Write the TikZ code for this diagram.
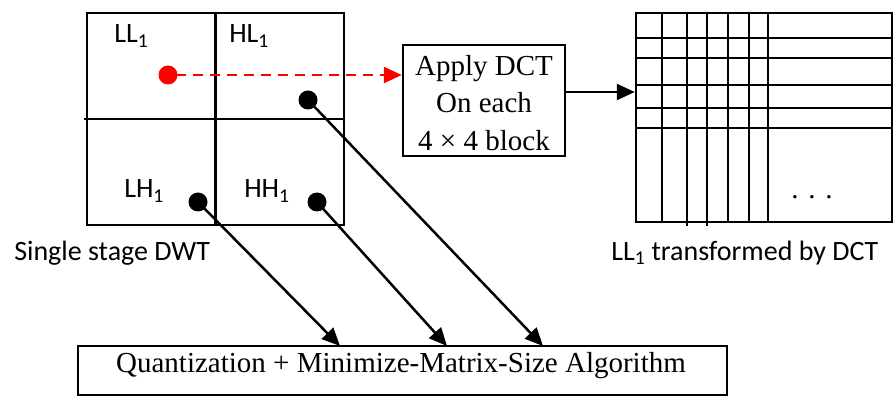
\documentclass[tikz,border=0pt]{standalone}
\usepackage{fontspec}
\setmainfont{Liberation Serif}
\newfontfamily\calib{Carlito}
\usetikzlibrary{arrows.meta}
\begin{document}
\begin{tikzpicture}[x=1pt,y=-1pt,line width=2.5pt,
  tip/.style={-{Triangle[length=18pt,width=16pt]}},
  dotb/.style={circle,fill=black,inner sep=0pt,minimum size=19pt},
  dotr/.style={circle,fill=red,inner sep=0pt,minimum size=19pt},
  lab/.style={font=\calib\fontsize{28}{32}\selectfont,inner sep=0pt},
  serif/.style={font=\fontsize{29}{37.5}\selectfont,inner sep=0pt},
  box/.style={draw,inner sep=0pt}]
\useasboundingbox (0,0) rectangle (894,398);
% left DWT grid
\node[box,minimum width=257pt,minimum height=212pt] (dwt) at (215.5,119) {};
\draw (dwt.north) -- (dwt.south);
\draw ([xshift=-2pt]dwt.west) -- (dwt.east);
\node[lab,anchor=base west] (tll) at (113,43) {LL\textsubscript{1}};
\node[lab,anchor=base west] (thl) at (228,43) {HL\textsubscript{1}};
\node[lab,anchor=base west] (tlh) at (123,198) {LH\textsubscript{1}};
\node[lab,anchor=base west] (thh) at (243,198) {HH\textsubscript{1}};
\node[dotr] (rdot) at (168,75) {};
\node[dotb] (hldot) at (308,100) {};
\node[dotb] (lhdot) at (198,202) {};
\node[dotb] (hhdot) at (317,202) {};
\node[lab,anchor=base west] (dwtlab) at (13,260) {Single stage DWT};
% DCT box
\node[box,minimum width=162pt,minimum height=111pt] (dct) at (484,100.5) {};
\node[serif,align=center] (dcttxt) at (484,103) {Apply DCT\\On each\\4 × 4 block};
% right grid
\node[box,minimum width=256pt,minimum height=209pt] (ll) at (764,117.5) {};
\foreach \x in {662,687,707,728,749,768} \draw (\x,13) -- (\x,222);
\draw (687,222) -- (687,226);
\draw (707,222) -- (707,226);
\foreach \y in {38,58,85,108,128} \draw (636,\y) -- (892,\y);
\node[serif] (ell) at (812,197) {. . .};
\node[lab,anchor=base west] (lllab) at (610,260) {LL\textsubscript{1} transformed by DCT};
% bottom box
\node[box,minimum width=649pt,minimum height=49pt] (q) at (402.5,370.5) {};
\node[serif] (qt) at (401,366) {Quantization + Minimize-Matrix-Size Algorithm};
\coordinate (a1) at (340,346);
\coordinate (a2) at (447,346);
\coordinate (a3) at (543,346);
% connectors
\draw[red,dash pattern=on 10pt off 7pt,shorten <=8pt,-{Triangle[length=18pt,width=16pt]}] (rdot.center) -- (rdot.center -| dct.west);
\draw[tip] ([yshift=8.5pt]dct.east) -- ([yshift=8.5pt]dct.east -| ll.west);
\draw[tip] (lhdot.center) -- (a1);
\draw[tip] (hhdot.center) -- (a2);
\draw[tip] (hldot.center) -- (a3);
\end{tikzpicture}
\end{document}
